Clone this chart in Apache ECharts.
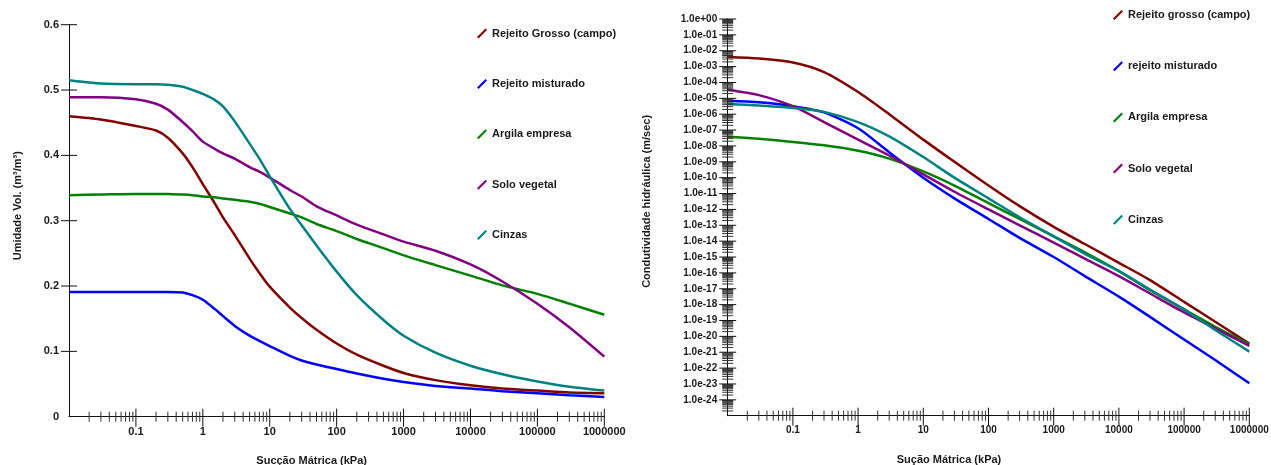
<!DOCTYPE html>
<html><head><meta charset="utf-8">
<script src="https://cdn.jsdelivr.net/npm/echarts@6/dist/echarts.min.js"></script>
<style>html,body{margin:0;padding:0;background:#fff}#c{width:1271px;height:465px}</style>
</head><body><div id="c"></div>
<script>
// ---------- Left chart: volumetric water content vs matric suction ----------
const suctionLeft = [0.01,0.03,0.1,0.2,0.3,0.5,0.7,1,1.5,2,3,5,7,10,20,30,50,100,200,500,1000,3000,1e4,3e4,1e5,3e5,1e6];
const thetaRejeitoGrosso = [0.460,0.455,0.445,0.438,0.427,0.403,0.382,0.356,0.327,0.305,0.278,0.242,0.220,0.199,0.167,0.151,0.133,0.112,0.095,0.078,0.067,0.056,0.048,0.043,0.040,0.037,0.036];
const thetaRejeitoMisturado = [0.191,0.191,0.191,0.191,0.191,0.190,0.186,0.179,0.165,0.154,0.139,0.124,0.116,0.108,0.093,0.086,0.080,0.073,0.066,0.058,0.053,0.047,0.043,0.039,0.036,0.033,0.030];
const thetaArgila = [0.339,0.340,0.341,0.341,0.341,0.340,0.339,0.337,0.336,0.334,0.332,0.329,0.326,0.321,0.311,0.305,0.295,0.284,0.272,0.258,0.247,0.232,0.216,0.201,0.188,0.173,0.156];
const thetaSoloVegetal = [0.489,0.489,0.486,0.479,0.470,0.451,0.437,0.421,0.410,0.403,0.395,0.382,0.375,0.366,0.347,0.337,0.322,0.308,0.294,0.279,0.268,0.254,0.233,0.207,0.173,0.137,0.092];
const thetaCinzas = [0.515,0.510,0.509,0.509,0.508,0.505,0.500,0.494,0.485,0.475,0.452,0.418,0.395,0.368,0.318,0.293,0.262,0.222,0.186,0.148,0.124,0.098,0.078,0.065,0.054,0.046,0.040];
const legendLeft = ['Rejeito Grosso (campo)','Rejeito misturado','Argila empresa','Solo vegetal','Cinzas'];

// ---------- Right chart: hydraulic conductivity vs matric suction ----------
const suctionRight = [0.01,0.03,0.1,0.3,1,3,10,30,100,300,1000,3000,1e4,3e4,1e5,3e5,1e6];
const kRejeitoGrosso = [4.0e-3,3.2e-3,1.8e-3,4.5e-4,2.5e-5,1.0e-6,2.5e-8,1.0e-9,3.2e-11,1.6e-12,8.0e-14,6.6e-15,4.3e-16,3.5e-17,1.5e-18,8.3e-20,3.5e-21];
const kRejeitoMisturado = [7.0e-6,5.6e-6,3.2e-6,1.3e-6,1.3e-7,4.0e-9,1.0e-10,5.0e-12,2.5e-13,1.6e-14,1.0e-15,6.3e-17,3.2e-18,1.7e-19,6.3e-21,3.2e-22,1.1e-23];
const kArgila = [3.8e-8,2.8e-8,1.8e-8,1.1e-8,5.0e-9,1.6e-9,2.5e-10,3.2e-11,2.5e-12,2.5e-13,2.0e-14,2.0e-15,1.3e-16,8.0e-18,5.0e-19,4.0e-20,3.2e-21];
const kSoloVegetal = [3.5e-5,1.6e-5,3.2e-6,3.2e-7,2.5e-8,2.5e-9,1.6e-10,1.3e-11,1.0e-12,1.0e-13,8.0e-15,8.0e-16,6.3e-17,5.0e-18,3.2e-19,3.2e-20,2.5e-21];
const kCinzas = [4.4e-6,3.5e-6,2.5e-6,1.4e-6,3.2e-7,4.0e-8,2.0e-9,1.0e-10,5.0e-12,3.2e-13,2.0e-14,1.6e-15,1.3e-16,9.0e-18,5.0e-19,2.5e-20,1.1e-21];
const legendRight = ['Rejeito grosso (campo)','rejeito misturado','Argila empresa','Solo vegetal','Cinzas'];

// ---------- tick labels ----------
const suctionTickLabels = ['0.1','1','10','100','1000','10000','100000','1000000']; // exponents -1..6
const thetaTickLabels = ['0','0.1','0.2','0.3','0.4','0.5','0.6'];
const kTickLabels = ['1.0e+00','1.0e-01','1.0e-02','1.0e-03','1.0e-04','1.0e-05','1.0e-06','1.0e-07','1.0e-08','1.0e-09','1.0e-10','1.0e-11','1.0e-12','1.0e-13','1.0e-14','1.0e-15','1.0e-16','1.0e-17','1.0e-18','1.0e-19','1.0e-20','1.0e-21','1.0e-22','1.0e-23','1.0e-24'];

const colors = ['#800000','#0000ff','#008000','#800080','#008080'];
const FONT = 'Liberation Sans';
const TXT = '#1a1a1a';

function toLogPairs(xs, ys, logY) {
  return xs.map((x, i) => [Math.log10(x), logY ? Math.log10(ys[i]) : ys[i]]);
}

// tick mark data (log decades)
function xTickData(yBase) {
  const d = [];
  for (let n = -2; n <= 6; n++) {
    if (n > -2) d.push([n, yBase, 1]);
    if (n < 6) for (let k = 2; k <= 9; k++) d.push([n + Math.log10(k), yBase, 0]);
  }
  return d;
}
function yTickDataRight(xBase) {
  const d = [];
  for (let n = -25; n <= 0; n++) {
    if (n > -25) d.push([xBase, n, 1]);
    if (n < 0) for (let k = 2; k <= 9; k++) d.push([xBase, n + Math.log10(k), 0]);
  }
  return d;
}
function yTickDataLeft(xBase) {
  return thetaTickLabels.slice(1).map((t) => [xBase, parseFloat(t), 1]);
}

function tickSeries(xi, yi, data, vertical, majA, majB, minA, minB) {
  return {
    type: 'custom', xAxisIndex: xi, yAxisIndex: yi, data: data, silent: true, clip: false, z: 5,
    renderItem: function (params, api) {
      const p = api.coord([api.value(0), api.value(1)]);
      const major = api.value(2) === 1;
      const a = major ? majA : minA, b = major ? majB : minB;
      const shape = vertical
        ? { x1: p[0], y1: p[1] - a, x2: p[0], y2: p[1] + b }
        : { x1: p[0] - a, y1: p[1], x2: p[0] + b, y2: p[1] };
      return { type: 'line', shape: shape, style: { stroke: major ? '#111' : '#333', lineWidth: 1 } };
    }
  };
}

const names = { fontFamily: FONT, fontWeight: 'bold', fontSize: 11, color: TXT };

const leftSeriesVals = [thetaRejeitoGrosso, thetaRejeitoMisturado, thetaArgila, thetaSoloVegetal, thetaCinzas];
const rightSeriesVals = [kRejeitoGrosso, kRejeitoMisturado, kArgila, kSoloVegetal, kCinzas];

const series = [];
leftSeriesVals.forEach((v, i) => series.push({
  name: legendLeft[i], type: 'line', xAxisIndex: 0, yAxisIndex: 0, showSymbol: false, smooth: 0.25,
  data: toLogPairs(suctionLeft, v, false), lineStyle: { width: 2.5, color: colors[i] }, itemStyle: { color: colors[i] }, z: 3
}));
rightSeriesVals.forEach((v, i) => series.push({
  name: legendRight[i], type: 'line', xAxisIndex: 1, yAxisIndex: 1, showSymbol: false, smooth: 0.25,
  data: toLogPairs(suctionRight, v, true), lineStyle: { width: 2.5, color: colors[i] }, itemStyle: { color: colors[i] }, z: 3
}));
series.push(tickSeries(0, 0, xTickData(0), true, 8, 10, 5, 5));
series.push(tickSeries(0, 0, yTickDataLeft(-2), false, 8, 8, 0, 0));
series.push(tickSeries(1, 1, xTickData(-25), true, 8, 10, 5, 5));
series.push(tickSeries(1, 1, yTickDataRight(-2), false, 8.5, 8.5, 5.5, 5.5));

const legendIcon = 'path://M0,8.5 L8.5,0 L10,1.5 L1.5,10 Z';
const legendCommon = {
  orient: 'vertical', icon: legendIcon, itemWidth: 10, itemHeight: 10, selectedMode: false,
  textStyle: { fontFamily: FONT, fontWeight: 'bold', fontSize: 11, color: TXT, lineHeight: 12 }
};

const axisLineStyle = { show: true, onZero: false, lineStyle: { color: '#111', width: 1 } };

const option = {
  animation: false,
  backgroundColor: '#fff',
  grid: [
    { left: 69, top: 24.7, width: 535.3, height: 392, containLabel: false, outerBoundsMode: 'none' },
    { left: 727.7, top: 19, width: 521.6, height: 396.7, containLabel: false, outerBoundsMode: 'none' }
  ],
  legend: [
    Object.assign({ data: legendLeft, left: 472, top: 22.5, itemGap: 38.4 }, legendCommon),
    Object.assign({ data: legendRight, left: 1108, top: 4, itemGap: 39.2 }, legendCommon)
  ],
  xAxis: [
    { type: 'value', gridIndex: 0, min: -2, max: 6, interval: 1, axisLine: axisLineStyle, axisTick: { show: false }, splitLine: { show: false },
      axisLabel: { margin: 10, fontFamily: FONT, fontWeight: 'bold', fontSize: 11, color: TXT,
        formatter: v => (v >= -1 ? suctionTickLabels[Math.round(v) + 1] : '') },
      name: 'Sucção Mátrica (kPa)', nameLocation: 'middle', nameGap: 39,
      nameTextStyle: Object.assign({ padding: [0, 50, 0, 0] }, names) },
    { type: 'value', gridIndex: 1, min: -2, max: 6, interval: 1, axisLine: axisLineStyle, axisTick: { show: false }, splitLine: { show: false },
      axisLabel: { margin: 10, fontFamily: FONT, fontWeight: 'bold', fontSize: 10, color: TXT,
        formatter: v => (v >= -1 ? suctionTickLabels[Math.round(v) + 1] : '') },
      name: 'Sução Mátrica (kPa)', nameLocation: 'middle', nameGap: 39,
      nameTextStyle: Object.assign({ padding: [0, 79, 0, 0] }, names) }
  ],
  yAxis: [
    { type: 'value', gridIndex: 0, min: 0, max: 0.6, interval: 0.1, axisLine: axisLineStyle, axisTick: { show: false }, splitLine: { show: false },
      axisLabel: { margin: 10, fontFamily: FONT, fontWeight: 'bold', fontSize: 11, color: TXT,
        formatter: v => thetaTickLabels[Math.round(v * 10)] },
      name: 'Umidade Vol. (m³/m³)', nameLocation: 'middle', nameGap: 46,
      nameTextStyle: Object.assign({ padding: [0, 0, 0, 30] }, names) },
    { type: 'value', gridIndex: 1, min: -25, max: 0, interval: 1, axisLine: axisLineStyle, axisTick: { show: false }, splitLine: { show: false },
      axisLabel: { margin: 10.5, fontFamily: FONT, fontWeight: 'bold', fontSize: 10, color: TXT,
        formatter: v => (v > -25 ? kTickLabels[-Math.round(v)] : '') },
      name: 'Condutividade hidráulica (m/sec)', nameLocation: 'middle', nameGap: 75,
      nameTextStyle: Object.assign({ padding: [0, 0, 0, 32] }, names) }
  ],
  series: series
};

const chart = echarts.init(document.getElementById('c'), null, { renderer: 'canvas' });
chart.setOption(option);
</script>
</body></html>
